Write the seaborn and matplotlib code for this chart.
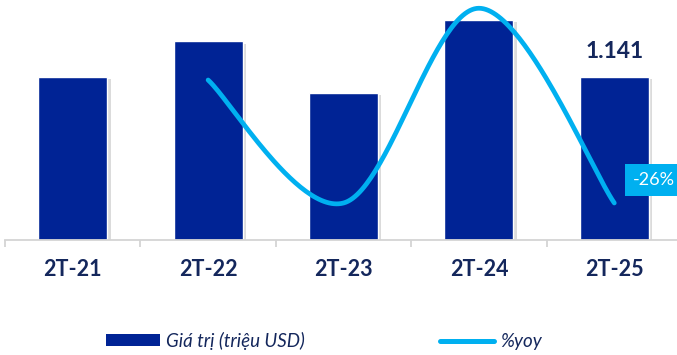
import numpy as np
import pandas as pd
import matplotlib
matplotlib.use("Agg")
import matplotlib.pyplot as plt
import matplotlib.patheffects as pe
from matplotlib.patches import Patch
from matplotlib.lines import Line2D
import seaborn as sns

# Export value by period (million USD) and year-over-year change (%)
periods = ["2T-21", "2T-22", "2T-23", "2T-24", "2T-25"]
values = [1.14, 1.39, 1.03, 1.54, 1.141]
yoy = [np.nan, 22, -26, 50, -26]

BAR = "#002395"
LINE = "#00B0F0"
TEXT = "#14275C"

sns.set_theme(style="white")
plt.rcParams["font.family"] = ["Lato", "DejaVu Sans"]

fig = plt.figure(figsize=(6.77, 3.55), dpi=100)
ax = fig.add_axes([5 / 677, 1 - 240 / 355, 1.0, 240 / 355])

df = pd.DataFrame({"period": periods, "value": values})
sns.barplot(data=df, x="period", y="value", color=BAR, width=0.51,
            saturation=1, ax=ax, zorder=2)
for bar in ax.patches:
    bar.set_path_effects([pe.SimplePatchShadow(offset=(2.5, -1.5),
                                               shadow_rgbFace="#8a8a8a",
                                               alpha=0.3),
                          pe.Normal()])

ax.set_xlim(-0.5, 4.5)
ax.set_ylim(0, 1.68)
ax.set_xlabel("")
ax.set_ylabel("")
ax.set_yticks([])
for s in ["left", "right", "top"]:
    ax.spines[s].set_visible(False)
ax.spines["bottom"].set_color("#D4D4D4")
ax.spines["bottom"].set_linewidth(1.3)
ax.set_xticks(range(len(periods)))
ax.set_xticklabels(periods, fontsize=15.5, fontweight="bold", color=TEXT)
ax.tick_params(axis="x", which="major", length=0, pad=14)
ax.set_xticks(np.arange(-0.5, len(periods), 1.0), minor=True)
ax.tick_params(axis="x", which="minor", length=5, width=1.3,
               color="#D4D4D4", direction="out", bottom=True)

# value label on the latest period
ax.annotate(f"{values[-1]:.3f}", xy=(4, values[-1]), xytext=(0, 13.5),
            textcoords="offset points", ha="center", va="baseline",
            fontsize=16.5, fontweight="bold", color=TEXT)

# yoy line on a secondary scale, smoothed with a Catmull-Rom spline
ax2 = ax.twinx()
ax2.set_ylim(-40.44, 53.22)
ax2.axis("off")

xs = np.array([i for i, v in enumerate(yoy) if not np.isnan(v)], float)
ys = np.array([v for v in yoy if not np.isnan(v)], float)
P = np.column_stack([xs, ys])
Pext = np.vstack([P[0], P, P[-1]])
t = np.linspace(0, 1, 60)
curve = []
for i in range(1, len(Pext) - 2):
    p0, p1, p2, p3 = Pext[i - 1], Pext[i], Pext[i + 1], Pext[i + 2]
    c1 = p1 + (p2 - p0) / 6
    c2 = p2 - (p3 - p1) / 6
    seg = ((1 - t) ** 3)[:, None] * p1 + (3 * (1 - t) ** 2 * t)[:, None] * c1 \
        + (3 * (1 - t) * t ** 2)[:, None] * c2 + (t ** 3)[:, None] * p2
    curve.append(seg)
curve = np.vstack(curve)
sns.lineplot(x=curve[:, 0], y=curve[:, 1], sort=False, color=LINE,
             linewidth=3.4, ax=ax2, solid_capstyle="round", zorder=3)
ax2.set_xlim(-0.5, 4.5)

ax2.annotate(f"{yoy[-1]:.0f}%", xy=(4, yoy[-1]), xytext=(13.5, 16.5),
             textcoords="offset points", ha="left", va="center",
             fontsize=13, color="white",
             bbox=dict(boxstyle="square,pad=0.45", fc=LINE, ec="none"))

handles = [Patch(facecolor=BAR, edgecolor="none"),
           Line2D([0], [0], color=LINE, linewidth=3.6, solid_capstyle="round")]
fig.legend(handles, ["Giá trị (triệu USD)", "%yoy"], ncol=2,
           loc="center left", bbox_to_anchor=(106 / 677, 1 - 341 / 355),
           frameon=False, borderpad=0, borderaxespad=0,
           handlelength=2.9, handleheight=0.6, handletextpad=0.3,
           columnspacing=7.2, prop=dict(size=13.5, style="italic"),
           labelcolor=TEXT)

fig.savefig("out.png", dpi=100)
